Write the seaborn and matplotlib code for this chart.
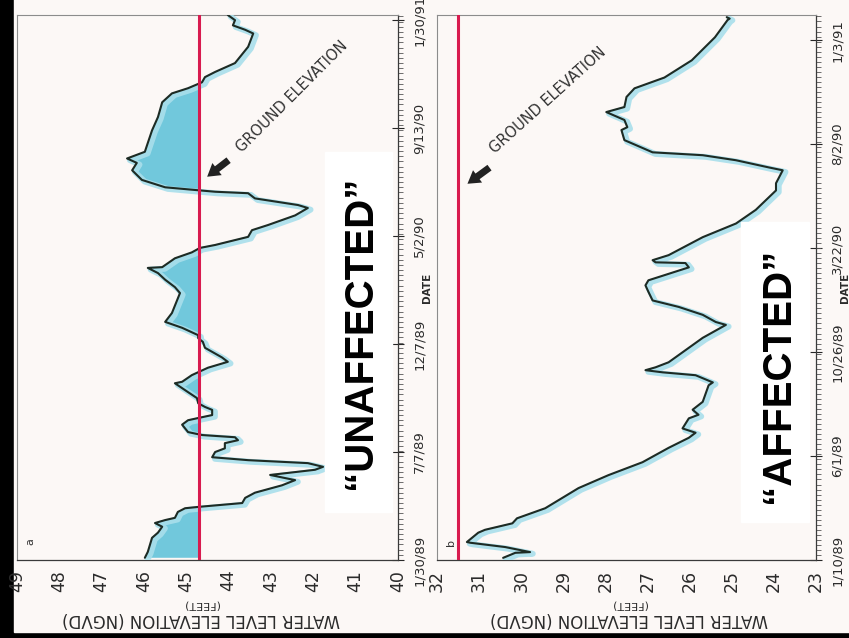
import numpy as np
import pandas as pd
import matplotlib
matplotlib.use('Agg')
import matplotlib.pyplot as plt
import matplotlib.patheffects as pe
from matplotlib.patches import Rectangle
from matplotlib.ticker import MultipleLocator
import seaborn as sns

# well a ("unaffected"): days since 1/30/89 and water level (ft NGVD)
a_day = [3, 11, 30, 37, 45, 50, 54, 57, 65, 70,
         72, 77, 84, 91, 101, 108, 115, 122, 126, 131,
         135, 139, 146, 151, 158, 162, 166, 169, 173, 183,
         189, 192, 196, 203, 207, 212, 219, 227, 239, 241,
         250, 260, 268, 274, 287, 295, 300, 304, 314, 322,
         334, 361, 369, 379, 388, 395, 396, 408, 416, 422,
         426, 437, 446, 453, 466, 476, 480, 489, 496, 498,
         500, 504, 514, 527, 537, 543, 552, 564, 581, 599,
         619, 631, 638, 646, 653, 660, 672, 694, 712, 717,
         723, 730, 737]
a_level = [45.98, 45.91, 45.81, 45.67, 45.57, 45.74, 45.50, 45.27, 45.20, 45.03,
           44.68, 43.68, 43.61, 43.38, 42.74, 42.43, 43.02, 41.96, 41.77, 42.13,
           43.54, 44.39, 44.32, 44.09, 44.09, 43.78, 43.85, 44.63, 44.96, 45.10,
           44.96, 44.72, 44.39, 44.39, 44.56, 44.72, 44.75, 44.96, 45.27, 45.10,
           44.87, 44.49, 44.02, 44.16, 44.56, 44.61, 44.72, 44.72, 45.10, 45.50,
           45.34, 45.15, 45.27, 45.50, 45.67, 45.91, 45.57, 45.27, 44.87, 44.68,
           44.32, 43.54, 43.45, 43.07, 42.43, 42.13, 42.36, 43.38, 43.54, 44.32,
           44.72, 45.50, 46.05, 46.28, 46.17, 46.40, 45.98, 45.91, 45.81, 45.67,
           45.57, 45.34, 44.96, 44.63, 44.56, 44.32, 43.85, 43.54, 43.42, 43.61,
           43.90, 43.85, 44.02]
a_ground = 44.7
a_dates = ['1/30/89', '7/7/89', '12/7/89', '5/2/90', '9/13/90', '1/30/91']
a_step = 146

# well b ("affected"): days since 1/10/89
b_day = [3, 10, 11, 18, 24, 25, 38, 42, 51, 58,
         72, 100, 118, 136, 156, 170, 177, 183, 197, 202,
         209, 220, 243, 247, 257, 261, 264, 268, 275, 309,
         327, 331, 341, 352, 361, 373, 382, 389, 407, 413,
         414, 417, 424, 449, 468, 487, 514, 524, 542, 546,
         556, 563, 567, 584, 598, 602, 612, 623, 630, 644,
         656, 671, 695, 727, 751, 753, 755]
b_level = [30.43, 30.14, 29.79, 30.38, 31.21, 31.29, 31.02, 30.86, 30.21, 30.10,
           29.43, 28.64, 27.93, 27.12, 26.50, 26.02, 25.86, 26.17, 26.02, 25.79,
           25.93, 25.69, 25.55, 25.45, 25.86, 26.64, 27.05, 26.81, 26.50, 25.69,
           25.14, 25.38, 25.69, 26.26, 26.88, 26.98, 27.05, 26.98, 26.02, 26.10,
           26.81, 26.88, 26.50, 25.69, 24.90, 24.43, 23.95, 23.95, 23.79, 24.12,
           24.90, 25.69, 26.88, 27.55, 27.62, 27.48, 27.55, 27.98, 27.55, 27.50,
           27.31, 26.60, 25.95, 25.40, 25.10, 25.05, 25.12]
b_ground = 31.5
b_dates = ['1/10/89', '6/1/89', '10/26/89', '3/22/90', '8/2/90', '1/3/91']
b_step = 144.6

sns.set_style('white')
plt.rcParams['font.family'] = ['DejaVu Sans']

paper = '#fcf8f6'
fig = plt.figure(figsize=(8.49, 6.38), dpi=100, facecolor='black')
fig.add_artist(Rectangle((0.0165, 0.0094), 1, 1, transform=fig.transFigure,
                         color=paper, zorder=-10))

ax_a = fig.add_axes([0.02002, 0.12226, 0.44876, 0.85423])
ax_b = fig.add_axes([0.51472, 0.12226, 0.44641, 0.85423])


def draw_panel(ax, day, level, ground, dates, step, top, hi, lo, letter, fill,
               arrow_tip, arrow_tail, text_pos, text_rot, label_x):
    df = pd.DataFrame({'day': day, 'level': level})
    ax.set_facecolor('none')
    if fill:
        ax.fill_betweenx(df['day'], df['level'], ground, where=df['level'] > ground,
                         interpolate=True, color='#62c3da', alpha=0.9, lw=0, zorder=1)
    sns.lineplot(data=df, x='level', y='day', orient='y', sort=False, estimator=None,
                 color='#1d2b24', lw=1.5, ax=ax, zorder=3,
                 path_effects=[pe.SimpleLineShadow(offset=(2.0, -1.2), shadow_color='#a9dfeb',
                                                   alpha=0.9, linewidth=4.2),
                               pe.Normal()])
    ax.axvline(ground, color='#d81b4f', lw=2.2, zorder=4)

    ax.set_xlim(hi, lo)
    ax.set_ylim(0, top)
    ax.set_xticks(np.arange(lo, hi + 1))
    ax.tick_params(axis='x', direction='out', length=6, width=0.9, labelsize=12.5,
                   labelrotation=90, pad=1, colors='#2b2b2b')
    ax.yaxis.tick_right()
    ax.set_yticks(np.arange(len(dates)) * step)
    ax.set_yticklabels(dates, rotation=90, va='center', fontsize=9.5, color='#2b2b2b')
    ax.yaxis.set_minor_locator(MultipleLocator(7))
    ax.tick_params(axis='y', which='major', direction='inout', length=9, width=0.8, pad=6)
    ax.tick_params(axis='y', which='minor', direction='out', length=3.5, width=0.6,
                   colors='#555555')
    ax.set_xlabel('')
    ax.set_ylabel('')
    for side in ['left', 'top']:
        ax.spines[side].set_color('#8c8c8c')
        ax.spines[side].set_linewidth(0.8)
    for side in ['right', 'bottom']:
        ax.spines[side].set_color('#3a3a3a')
        ax.spines[side].set_linewidth(0.9)

    ax.text(0.036, 0.033, letter, transform=ax.transAxes, rotation=90,
            fontsize=8, ha='center', va='center', color='#333333')
    ax.annotate('', xy=arrow_tip, xytext=arrow_tail,
                arrowprops=dict(arrowstyle='simple,head_width=1.1,head_length=0.9,tail_width=0.5',
                                color='#222222', lw=0), zorder=5)
    ax.text(text_pos[0], text_pos[1], 'GROUND ELEVATION', rotation=text_rot,
            rotation_mode='anchor', ha='center', va='center', fontsize=10.5,
            color='#333333', zorder=5)
    ax.text(label_x, -0.108, 'WATER LEVEL ELEVATION (NGVD)', transform=ax.transAxes,
            rotation=180, ha='center', va='center', fontsize=12, color='#2b2b2b')
    ax.text(label_x, -0.082, '(FEET)', transform=ax.transAxes,
            rotation=180, ha='center', va='center', fontsize=8, color='#2b2b2b')
    ax.text(1.077, 0.5, 'DATE', transform=ax.transAxes, rotation=90,
            ha='center', va='center', fontsize=7.5, fontweight='bold', color='#2b2b2b')


draw_panel(ax_a, a_day, a_level, a_ground, a_dates, a_step, 737, 49, 40, 'a', True,
           (44.56, 516), (43.95, 543), (42.5, 626), 45, 0.483)
draw_panel(ax_b, b_day, b_level, b_ground, b_dates, b_step, 758, 32, 23, 'b', False,
           (31.33, 521), (30.7, 548), (29.36, 639), 42, 0.507)

# white call-out boxes with the big labels
fig.add_artist(Rectangle((0.3828, 0.1975), 0.0789, 0.5643, transform=fig.transFigure,
                         color='white', zorder=20))
fig.add_artist(Rectangle((0.8728, 0.1818), 0.0801, 0.4702, transform=fig.transFigure,
                         color='white', zorder=20))
fig.text(0.424, 0.4796, '\u201cUNAFFECTED\u201d', rotation=90, ha='center', va='center',
         fontsize=29, fontweight='bold', family='Liberation Sans', color='black', zorder=21)
fig.text(0.9163, 0.4122, '\u201cAFFECTED\u201d', rotation=90, ha='center', va='center',
         fontsize=29, fontweight='bold', family='Liberation Sans', color='black', zorder=21)

fig.savefig('out.png', dpi=100, facecolor=fig.get_facecolor())
